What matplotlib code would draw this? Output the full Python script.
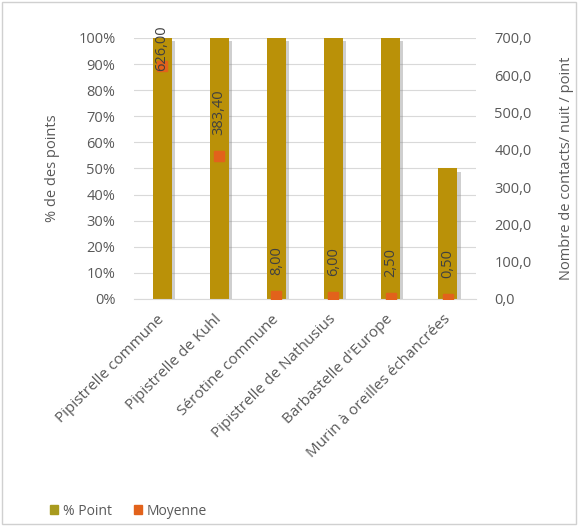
import matplotlib
matplotlib.use("Agg")
import matplotlib.pyplot as plt
import matplotlib.patheffects as pe
from matplotlib.patches import Patch, Rectangle
from matplotlib.ticker import FuncFormatter, MultipleLocator

plt.rcParams['font.family'] = ['Open Sans', 'DejaVu Sans']

species = ['Pipistrelle commune', 'Pipistrelle de Kuhl', 'Sérotine commune',
           'Pipistrelle de Nathusius', "Barbastelle d'Europe", 'Murin à oreilles échancrées']
pct_point = [100, 100, 100, 100, 100, 50]
moyenne = [626.00, 383.40, 8.00, 6.00, 2.50, 0.50]

gold = '#BA9108'
orange = '#E2621B'
txt = '#595959'

fig = plt.figure(figsize=(5.78, 5.26), dpi=100)
fig.patches.append(Rectangle((0.003, 0.003), 0.994, 0.994, transform=fig.transFigure,
                             fill=False, edgecolor='#d0d0d0', lw=1))
ax = fig.add_axes([0.231, 0.4316, 0.593, 0.4962])
x = range(len(species))

ax.bar(x, pct_point, width=0.33, color=gold, zorder=2,
       path_effects=[pe.SimplePatchShadow(offset=(2.5, -2.5), shadow_rgbFace='#888888', alpha=0.4),
                     pe.Normal()])
ax.set_ylim(0, 100)
ax.set_xlim(-0.5, len(species) - 0.5)
ax.yaxis.set_major_locator(MultipleLocator(10))
ax.yaxis.set_major_formatter(FuncFormatter(lambda v, p: f'{int(v)}%'))
ax.grid(axis='y', color='#d9d9d9', lw=0.8, zorder=0)
ax.set_axisbelow(True)
for s in ['top', 'left', 'right']:
    ax.spines[s].set_visible(False)
ax.spines['bottom'].set_color('#d9d9d9')
ax.tick_params(axis='y', length=0, colors=txt, labelsize=10.5, pad=13)
ax.tick_params(axis='x', length=0, colors=txt, labelsize=11, pad=13)
ax.set_xticks(list(x))
ax.set_xticklabels(species, rotation=45, ha='right', va='center', rotation_mode='anchor')
ax.set_ylabel('% de des points', color=txt, fontsize=10.5)
ax.yaxis.set_label_coords(-0.215, 0.5)

ax2 = ax.twinx()
ax2.set_ylim(0, 700)
ax2.yaxis.set_major_locator(MultipleLocator(100))
ax2.yaxis.set_major_formatter(FuncFormatter(lambda v, p: f'{v:.1f}'.replace('.', ',')))
for s in ax2.spines.values():
    s.set_visible(False)
ax2.tick_params(axis='y', length=0, colors=txt, labelsize=10.5, pad=13)
ax2.set_ylabel('Nombre de contacts/ nuit / point', color=txt, fontsize=10.5)
ax2.yaxis.set_label_coords(1.24, 0.5)
ax2.plot(list(x), moyenne, linestyle='none', marker='s', markersize=7,
         color=orange, zorder=3)
for xi, v in zip(x, moyenne):
    off = 15 if v < 550 else -4
    ax2.annotate(f'{v:.2f}'.replace('.', ','), (xi, v), xytext=(0, off),
                 textcoords='offset points', rotation=90, ha='center', va='bottom',
                 fontsize=10.5, color='#404040', annotation_clip=False)

handles = [Patch(color='#A89A1E', label='% Point'), Patch(color=orange, label='Moyenne')]
fig.legend(handles=handles, loc='lower left', bbox_to_anchor=(0.065, -0.01), ncol=2,
           frameon=False, fontsize=10, labelcolor=txt, handlelength=0.6,
           handleheight=0.6, handletextpad=0.3, columnspacing=1.6)

fig.savefig('out.png', dpi=100)
